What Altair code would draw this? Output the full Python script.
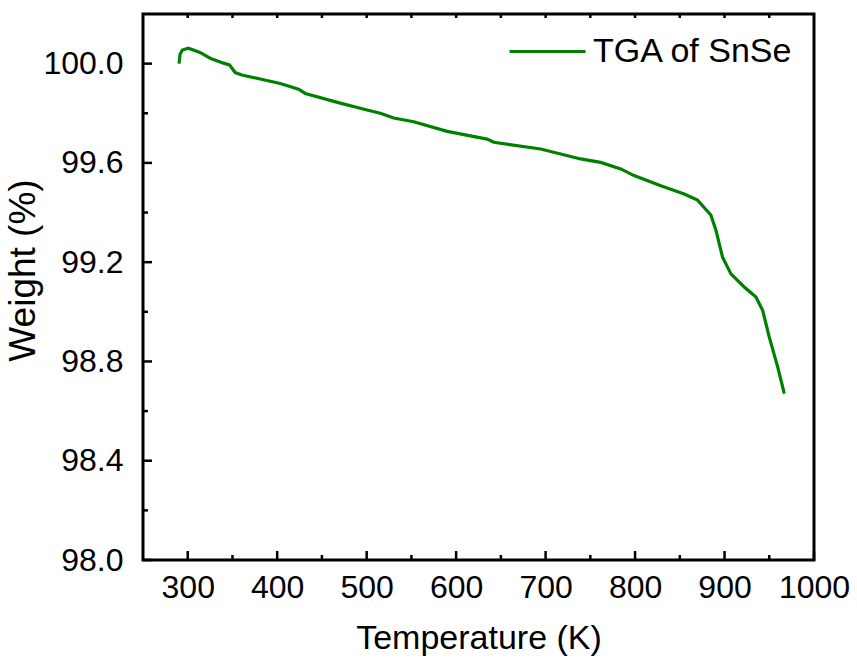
import altair as alt
import pandas as pd

# TGA curve of SnSe: temperature (K) vs. remaining weight (%)
temperature = [290.3, 291.4, 294.0, 300.7, 313.8, 325.0, 340.0, 346.6, 353.0, 360.5,
               381.0, 403.4, 423.9, 431.4, 470.5, 500.4, 515.3, 530.2, 552.6, 590.0,
               634.6, 642.2, 694.4, 739.2, 761.6, 784.0, 798.9, 828.8, 854.9, 869.8,
               884.7, 890.3, 897.8, 907.1, 922.0, 935.1, 942.6, 950.0, 959.4, 966.8]
weight = [100.000, 100.038, 100.055, 100.062, 100.045, 100.022, 100.002, 99.995, 99.964, 99.954,
          99.938, 99.920, 99.897, 99.880, 99.841, 99.813, 99.800, 99.781, 99.766, 99.727,
          99.696, 99.683, 99.656, 99.616, 99.602, 99.576, 99.549, 99.508, 99.475, 99.450,
          99.390, 99.330, 99.220, 99.153, 99.100, 99.060, 99.006, 98.898, 98.778, 98.670]
series_name = "TGA of SnSe"

# axis tick positions
x_major = [300, 400, 500, 600, 700, 800, 900, 1000]
x_minor = [350, 450, 550, 650, 750, 850, 950]
x_top = [300, 350, 400, 450, 500, 550, 600, 650, 700, 750, 800, 850, 900, 950]
y_major = [98.0, 98.4, 98.8, 99.2, 99.6, 100.0]
y_minor = [98.2, 98.6, 99.0, 99.4, 99.8]

FONT = "Liberation Sans"
W, H = 671, 546

df = pd.DataFrame({"T": temperature, "W": weight, "series": [series_name] * len(temperature)})

xs = alt.Scale(domain=[250, 1000], nice=False, zero=False)
ys = alt.Scale(domain=[98.0, 100.2], nice=False, zero=False)

line = alt.Chart(df).mark_line(strokeWidth=3.2).encode(
    x=alt.X("T:Q", scale=xs, title="Temperature (K)",
            axis=alt.Axis(values=x_major, format="d", ticks=False, domain=False, grid=False,
                          labelPadding=12, titlePadding=18, labelFlush=False)),
    y=alt.Y("W:Q", scale=ys, title="Weight (%)",
            axis=alt.Axis(values=y_major, format=".1f", ticks=False, domain=False, grid=False,
                          labelPadding=20, titlePadding=0, titleFontSize=37, titleY=256)),
    color=alt.Color("series:N", scale=alt.Scale(range=["#008000"]),
                    legend=alt.Legend(orient="none", legendX=365, legendY=-2, title=None,
                                      symbolType="stroke", symbolSize=5776, symbolStrokeWidth=3,
                                      labelFontSize=34, labelFont=FONT, labelColor="black",
                                      labelOffset=6, labelLimit=0, padding=0)),
)


def x_ticks(vals, y0, y1):
    d = pd.DataFrame({"tx": vals})
    return alt.Chart(d).mark_rule(color="black", strokeWidth=2.5).encode(
        x=alt.X("tx:Q", scale=xs, axis=None), y=alt.value(y0), y2=alt.value(y1))


def y_ticks(vals, x0, x1):
    d = pd.DataFrame({"ty": vals})
    return alt.Chart(d).mark_rule(color="black", strokeWidth=2.5).encode(
        y=alt.Y("ty:Q", scale=ys, axis=None), x=alt.value(x0), x2=alt.value(x1))


chart = alt.layer(
    line,
    x_ticks(x_major, H, H - 9),
    x_ticks(x_minor, H, H - 5),
    x_ticks(x_top, 0, 4),
    y_ticks(y_major, 0, 9),
    y_ticks(y_minor, 0, 5),
).resolve_axis(
    x="independent", y="independent",
).properties(
    width=W, height=H,
    background="white",
    autosize=alt.AutoSizeParams(type="none"),
    padding={"left": 143, "top": 14, "right": 43, "bottom": 103},
).configure_view(
    stroke="black", strokeWidth=3,
).configure_axis(
    labelFont=FONT, titleFont=FONT, labelFontSize=32, titleFontSize=34,
    labelColor="black", titleColor="black", titleFontWeight="normal",
)

chart.save("out.html", embed_options={"renderer": "svg", "actions": False})
